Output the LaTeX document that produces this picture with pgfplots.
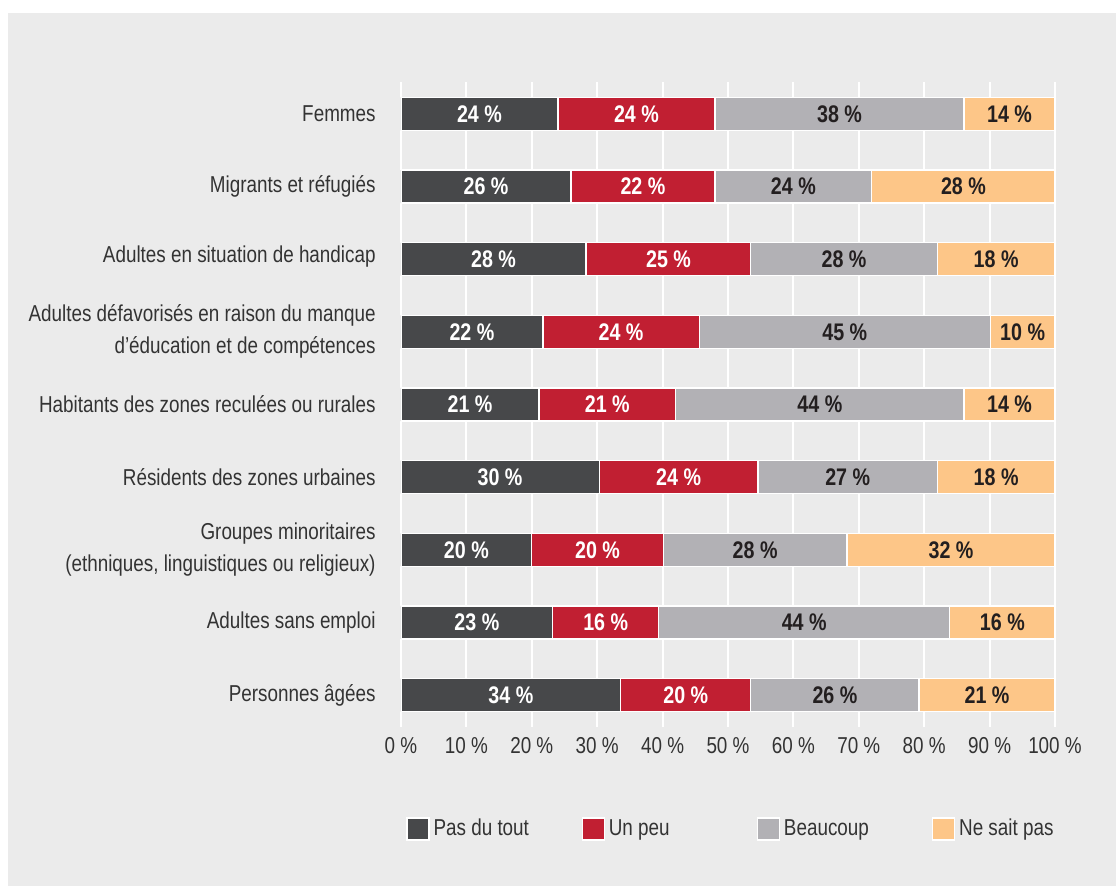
\documentclass[border=0pt]{standalone}
\usepackage{pgfplots}
\pgfplotsset{compat=1.18}
\usepackage{pgfplotstable}
\usepackage{fontspec}
\setmainfont{Liberation Sans}[FakeStretch=0.82]
\definecolor{bgc}{HTML}{EBEBEB}
\definecolor{cdark}{HTML}{47484A}
\definecolor{cred}{HTML}{C11F32}
\definecolor{cgray}{HTML}{B2B1B5}
\definecolor{corange}{HTML}{FDC688}
\definecolor{ctext}{HTML}{333333}
\definecolor{clab}{HTML}{231F20}

\pgfplotstableread{
y pas peu beau nsp
0 24.0 24.0 38.1 13.9
1 26.0 22.0 24.0 28.0
2 28.3 25.2 28.5 18.0
3 21.7 23.9 44.5 9.9
4 21.1 20.9 44.1 13.9
5 30.3 24.3 27.4 18.0
6 20.0 20.1 28.1 31.8
7 23.2 16.2 44.5 16.1
8 33.6 19.9 25.7 20.8
}\data

\pgfplotstableread{
y c1 c2 c3 c4 l1 l2 l3 l4
0 12.00 36.00 67.05 93.05 24 24 38 14
1 13.00 37.00 60.00 86.00 26 22 24 28
2 14.15 40.90 67.75 91.00 28 25 28 18
3 10.85 33.65 67.85 95.05 22 24 45 10
4 10.55 31.55 64.05 93.05 21 21 44 14
5 15.15 42.45 68.30 91.00 30 24 27 18
6 10.00 30.05 54.15 84.10 20 20 28 32
7 11.60 31.30 61.65 91.95 23 16 44 16
8 16.80 43.55 66.35 89.60 34 20 26 21
}\labs

\pgfplotsset{
  common/.style={
    at={(200.5pt,-41pt)}, anchor=north west,
    scale only axis, width=327pt, height=322.5pt,
    xmin=0, xmax=100, ymin=-0.44, ymax=8.44, y dir=reverse,
  },
  lbl/.style={only marks, mark=none, point meta=explicit symbolic,
    nodes near coords={\pgfplotspointmeta~\%},
    every node near coord/.append style={anchor=center, font=\fontsize{12}{14}\selectfont\bfseries, text=#1}},
}

\begin{document}
\begin{tikzpicture}
\fill[white] (0,0) rectangle (558pt,-443pt);
\fill[bgc] (4pt,-6.5pt) rectangle (558pt,-443pt);
\begin{axis}[common,
  xbar stacked, bar width=16.5pt,
  axis line style={draw=none},
  major tick length=0pt,
  xtick={0,10,...,100},
  xticklabels={0~\%,10~\%,20~\%,30~\%,40~\%,50~\%,60~\%,70~\%,80~\%,90~\%,100~\%},
  ytick={0,...,8},
  yticklabels={Femmes, Migrants et réfugiés, \raisebox{5pt}{Adultes en situation de handicap}, {Adultes défavorisés en raison du manque\\d’éducation et de compétences}, Habitants des zones reculées ou rurales, Résidents des zones urbaines, {Groupes minoritaires\\(ethniques, linguistiques ou religieux)}, Adultes sans emploi, Personnes âgées},
  /pgf/number format/assume math mode=true,
  yticklabel style={align=right, inner sep=0pt, xshift=-12.5pt, font=\fontsize{11.5}{16}\selectfont, text=ctext},
  xticklabel style={inner sep=0pt, yshift=-5pt, font=\fontsize{11.5}{13}\selectfont, text=ctext},
  xmajorgrids, grid style={white, line width=1pt},
  legend columns=4,
  legend style={at={(0.0076,-0.158)}, anchor=west, draw=none, fill=none,
    font=\fontsize{11.5}{13}\selectfont, text=ctext, inner sep=0pt,
    /tikz/every even column/.append style={column sep=0pt}},
  legend image code/.code={\draw[#1, draw=white, line width=0.6pt] (0pt,-5.5pt) rectangle (11pt,5.5pt);},
]
\addplot[fill=cdark, draw=white, line width=0.6pt] table[x=pas, y=y]{\data};
\addplot[fill=cred, draw=white, line width=0.6pt] table[x=peu, y=y]{\data};
\addplot[fill=cgray, draw=white, line width=0.6pt] table[x=beau, y=y]{\data};
\addplot[fill=corange, draw=white, line width=0.6pt] table[x=nsp, y=y]{\data};
\legend{\makebox[72pt][l]{Pas du tout},\makebox[72pt][l]{Un peu},\makebox[72pt][l]{Beaucoup},\makebox[50pt][l]{Ne sait pas}}
\end{axis}
\begin{axis}[common, hide axis]
\addplot[lbl=white] table[x=c1, y=y, meta=l1]{\labs};
\addplot[lbl=white] table[x=c2, y=y, meta=l2]{\labs};
\addplot[lbl=clab] table[x=c3, y=y, meta=l3]{\labs};
\addplot[lbl=clab] table[x=c4, y=y, meta=l4]{\labs};
\end{axis}
\end{tikzpicture}
\end{document}
